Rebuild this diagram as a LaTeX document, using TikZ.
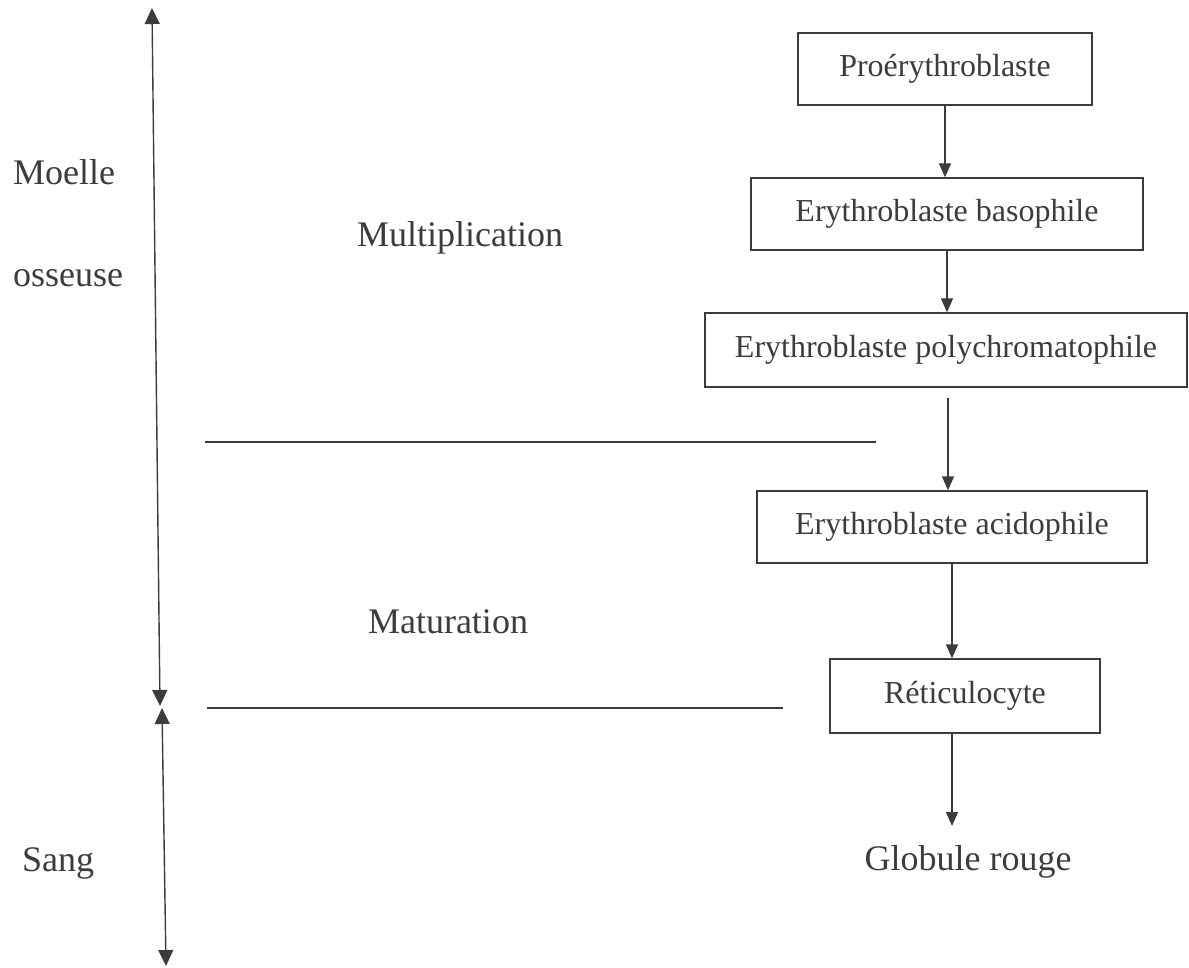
\documentclass[tikz,border=0pt]{standalone}
\usepackage{fontspec}
\setmainfont{Liberation Serif}
\usetikzlibrary{arrows.meta}
\definecolor{ink}{HTML}{3C3C3C}
\tikzset{
  cell/.style={draw=ink, line width=1.4pt, text=ink, inner sep=0pt, font=\fontsize{32}{38}\selectfont},
  lbl/.style={text=ink, inner sep=0pt, font=\fontsize{36}{42}\selectfont},
  flow/.style={draw=ink, line width=1.4pt, -{Triangle[length=14pt,width=12pt]}},
  span/.style={draw=ink, line width=1.4pt, {Triangle[length=16pt,width=15pt]}-{Triangle[length=16pt,width=15pt]}},
  sep/.style={draw=ink, line width=1.4pt}
}
\begin{document}
\begin{tikzpicture}[x=1pt,y=-1pt]
\useasboundingbox (0,0) rectangle (1189,968);
% boxes
\node[cell, minimum width=294pt, minimum height=72pt] (pro)  at (945,69)   {Proérythroblaste};
\node[cell, minimum width=392pt, minimum height=72pt] (baso) at (947,214) {Erythroblaste basophile};
\node[cell, minimum width=482pt, minimum height=74pt] (poly) at (946,350)  {Erythroblaste polychromatophile};
\node[cell, minimum width=390pt, minimum height=72pt] (acid) at (952,527)  {Erythroblaste acidophile};
\node[cell, minimum width=270pt, minimum height=74pt] (ret)  at (965,696)  {Réticulocyte};
% labels
\node[lbl, anchor=west] (moelle) at (13,172) {Moelle};
\node[lbl, anchor=west] (osseuse) at (13,278) {osseuse};
\node[lbl] (mult) at (460,238) {Multiplication};
\node[lbl] (mat) at (448,622) {Maturation};
\node[lbl, anchor=west] (sang) at (22,863) {Sang};
\node[lbl] (glob) at (968,862) {Globule rouge};
% flow arrows
\draw[flow] (pro.south) -- (pro.south |- baso.north);
\draw[flow] (baso.south) -- (poly.north -| baso.south);
\draw[flow] ([xshift=2pt,yshift=-10pt]poly.south) -- ([xshift=-4pt]acid.north);
\draw[flow] (acid.south) -- ([xshift=-13pt]ret.north);
\coordinate (gtip) at (952,826);
\draw[flow] ([xshift=-13pt]ret.south) -- (gtip);
% left span arrows
\coordinate (t1) at (152,8);
\coordinate (b1) at (160,706);
\coordinate (t2) at (162,708);
\coordinate (b2) at (166,966);
\draw[span] (t1) -- (b1);
\draw[span] (t2) -- (b2);
% separators
\coordinate (s1a) at (205,442);
\coordinate (s1b) at (876,442);
\coordinate (s2a) at (207,708);
\coordinate (s2b) at (783,708);
\draw[sep] (s1a) -- (s1b);
\draw[sep] (s2a) -- (s2b);
\end{tikzpicture}
\end{document}
